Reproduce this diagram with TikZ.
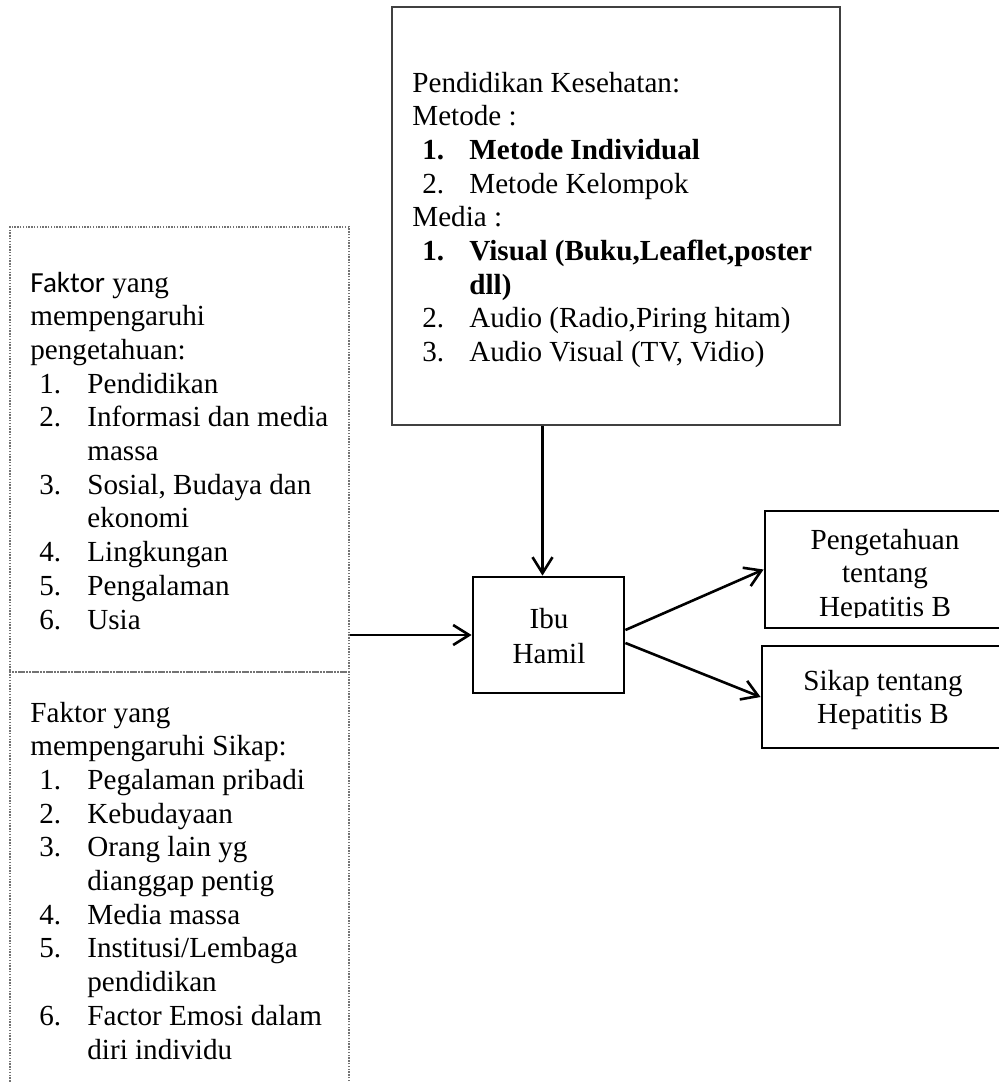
\documentclass[tikz,border=0pt]{standalone}
\usepackage{fontspec}
\setmainfont{Liberation Serif}
\newfontfamily\calibri{Carlito}
\usepackage{tikz}
\usetikzlibrary{arrows.meta, positioning, calc}

\begin{document}
\begin{tikzpicture}[
    x=0.5pt, y=-0.5pt, % one unit is one pixel of the page
    every node/.style={font=\fontsize{14.56}{16.85}\selectfont},
    solidbox/.style={rectangle, draw=black, line width=1.4pt, inner sep=0pt},
    framebox/.style={rectangle, draw=black!75, line width=1pt, inner sep=0pt},
    dotbox/.style={rectangle, draw=black!55, line width=0.6pt, dash pattern=on 0.7pt off 0.7pt, inner sep=0pt},
    txt/.style={inner sep=0pt, anchor=base west},
    ctxt/.style={inner sep=0pt, anchor=base},
    arrow/.style={-{Straight Barb[length=8pt, width=10pt, line width=1.3pt]}, line width=1.3pt},
]
\useasboundingbox (0,0) rectangle (999,1083);
\clip (0,0) rectangle (999,1083);

% Boxes
\node[framebox, minimum width=224pt, minimum height=209pt] (pendidikan) at (616,216) {};
\node[dotbox, minimum width=169.5pt, minimum height=222.5pt] (tahu) at (179.5,449.5) {};
\node[dotbox, minimum width=169.5pt, minimum height=211.5pt] (sikapf) at (179.5,883.5) {};
\node[solidbox, minimum width=75.5pt, minimum height=58pt] (ibu) at (548.5,635) {};
\node[solidbox, minimum width=120pt, minimum height=58.5pt] (peng) at (885,569.5) {};
\node[solidbox, minimum width=121.5pt, minimum height=51pt] (sikap) at (883.5,697) {};

% Health education
\node[txt] (pendidikanText) at (412,92) {\begin{tabular}[t]{@{\hspace{5pt}}p{23.5pt}@{}l@{}}
\multicolumn{2}{@{}l@{}}{Pendidikan Kesehatan:}\\
\multicolumn{2}{@{}l@{}}{Metode :}\\
\textbf{1.} & \textbf{Metode Individual}\\
2. & Metode Kelompok\\
\multicolumn{2}{@{}l@{}}{Media :}\\
\textbf{1.} & \textbf{Visual (Buku,Leaflet,poster}\\
 & \textbf{dll)}\\
2. & Audio (Radio,Piring hitam)\\
3. & Audio Visual (TV, Vidio)
\end{tabular}};

% Knowledge factors
\node[txt] (tahuText) at (30,292) {\begin{tabular}[t]{@{\hspace{4.5pt}}p{24pt}@{}l@{}}
\multicolumn{2}{@{}l@{}}{{\calibri Faktor} yang}\\
\multicolumn{2}{@{}l@{}}{mempengaruhi}\\
\multicolumn{2}{@{}l@{}}{pengetahuan:}\\
1. & Pendidikan\\
2. & Informasi dan media\\
 & massa\\
3. & Sosial, Budaya dan\\
 & ekonomi\\
4. & Lingkungan\\
5. & Pengalaman\\
6. & Usia
\end{tabular}};

% Attitude factors
\node[txt] (sikapfText) at (30,722) {\begin{tabular}[t]{@{\hspace{4.5pt}}p{24pt}@{}l@{}}
\multicolumn{2}{@{}l@{}}{Faktor yang}\\
\multicolumn{2}{@{}l@{}}{mempengaruhi Sikap:}\\
1. & Pegalaman pribadi\\
2. & Kebudayaan\\
3. & Orang lain yg\\
 & dianggap pentig\\
4. & Media massa\\
5. & Institusi/Lembaga\\
 & pendidikan\\
6. & Factor Emosi dalam\\
 & diri individu
\end{tabular}};

% Centre and outcomes
\node[ctxt] (ibuText) at (549,628) {\begin{tabular}[t]{@{}c@{}}Ibu\\[0.65pt]Hamil\end{tabular}};
\begin{scope}
\clip (765,511) rectangle (1005,617);
\node[ctxt] (pengText) at (885,549) {\begin{tabular}[t]{@{}c@{}}Pengetahuan\\tentang\\Hepatitis B\end{tabular}};
\end{scope}
\node[ctxt] (sikapText) at (883,690) {\begin{tabular}[t]{@{}c@{}}Sikap tentang\\Hepatitis B\end{tabular}};

% Connectors
\coordinate (drop) at ($(ibu.north)+(-6,0)$);
\draw[arrow] (pendidikan.south -| drop) -- (drop);
\draw[arrow] (tahu.east |- ibu.west) -- (ibu.west);
\draw[arrow] ($(ibu.east)+(0,-5)$) -- (peng.west);
\draw[arrow] ($(ibu.east)+(0,8)$) -- (sikap.west);

\end{tikzpicture}
\end{document}
